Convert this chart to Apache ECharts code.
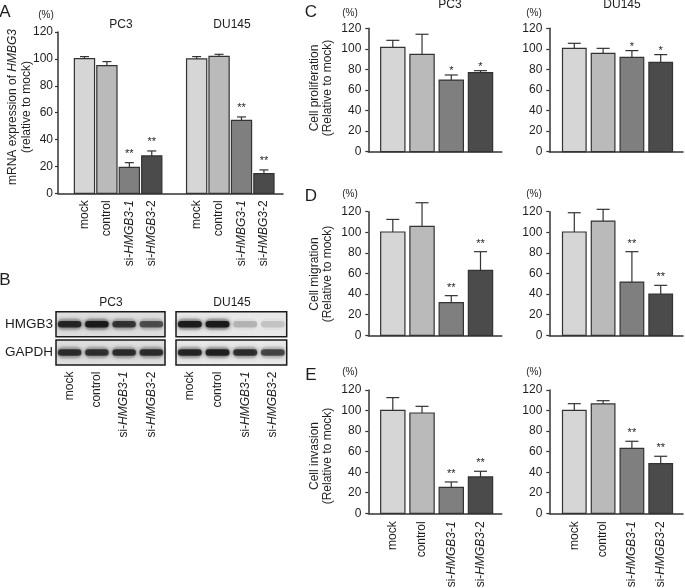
<!DOCTYPE html>
<html>
<head>
<meta charset="utf-8">
<script src="https://cdn.jsdelivr.net/npm/echarts@6/dist/echarts.min.js"></script>
<style>
  html, body { margin: 0; padding: 0; background: #fff; }
  #chart { width: 685px; height: 588px; }
</style>
</head>
<body>
<div id="chart"></div>
<script>
// values, % relative to mock (mean and upper error)
const groups = ['mock', 'control', 'si-HMGB3-1', 'si-HMGB3-2'];
const groupsA_DU145 = ['mock', 'control', 'si-HMBG3-1', 'si-HMBG3-2']; // spelled like this in the figure
const yTicks = [0, 20, 40, 60, 80, 100, 120];

// A: mRNA expression of HMGB3
const mrnaPC3 = [100.2, 95.0, 19.3, 27.8];
const mrnaPC3Err = [1.5, 3.0, 3.5, 3.7];
const mrnaDU145 = [100.0, 101.9, 54.3, 14.6];
const mrnaDU145Err = [1.7, 1.5, 2.5, 2.8];
const mrnaSig = ['', '', '**', '**'];

// B: western blot band strength (0..1)
const blotRows = ['GAPDH', 'HMGB3'];
const hmgb3PC3 = [0.85, 0.95, 0.75, 0.62];
const hmgb3DU145 = [0.92, 0.95, 0.2, 0.14];
const gapdhPC3 = [0.8, 0.78, 0.8, 0.8];
const gapdhDU145 = [0.85, 0.9, 0.8, 0.66];

// C: proliferation
const prolPC3 = [101.5, 94.7, 69.7, 76.9];
const prolPC3Err = [6.8, 19.5, 4.9, 1.9];
const prolDU145 = [100.5, 95.7, 91.8, 86.9];
const prolDU145Err = [4.9, 4.8, 6.5, 7.5];
const prolSig = ['', '', '*', '*'];

// D: migration
const migPC3 = [100.3, 105.8, 31.7, 63.1];
const migPC3Err = [12.2, 22.9, 6.8, 18.1];
const migDU145 = [100.3, 110.9, 51.7, 40.1];
const migDU145Err = [18.7, 11.4, 29.5, 8.4];
const migSig = ['', '', '**', '**'];

// E: invasion
const invPC3 = [100.2, 97.6, 25.3, 35.4];
const invPC3Err = [12.4, 6.5, 5.2, 5.5];
const invDU145 = [100.2, 106.4, 63.2, 48.3];
const invDU145Err = [6.5, 3.2, 6.9, 7.2];
const invSig = ['', '', '**', '**'];

const barColors = ['#d6d6d6', '#bababa', '#7f7f7f', '#4b4b4b'];
const edge = '#333';
const FONT = '"Liberation Sans", Arial, Helvetica, sans-serif';
const INK = '#1e1e1e';

// italic gene name
function richName(s) {
  return s.replace(/HM[A-Z]{2}3/, m => '{i|' + m + '}').replace(/-1$/, '-{i|1}');
}
const richStyle = { i: { fontStyle: 'italic', fontSize: 12, fontFamily: FONT, fill: INK } };

function makeBars(axis, values, errors, stars, opt) {
  const offset = opt.offset || 0;
  return {
    type: 'custom',
    xAxisIndex: axis,
    yAxisIndex: axis,
    clip: false,
    data: values.map((v, i) => [i + offset, v, errors[i]]),
    renderItem: function (params, api) {
      const i = params.dataIndex;
      const x = api.value(0), v = api.value(1), e = api.value(2);
      const p0 = api.coord([x, 0]);
      const p1 = api.coord([x, v]);
      const p2 = api.coord([x, v + e]);
      const w = api.size([opt.barWidth, 0])[0];
      const kids = [
        { type: 'line', shape: { x1: p1[0], y1: p1[1], x2: p2[0], y2: p2[1] }, style: { stroke: edge, lineWidth: 1.2 } },
        { type: 'line', shape: { x1: p2[0] - opt.cap, y1: p2[1], x2: p2[0] + opt.cap, y2: p2[1] }, style: { stroke: edge, lineWidth: 1.2 } },
        { type: 'rect', shape: { x: p0[0] - w / 2, y: p1[1], width: w, height: p0[1] - p1[1] },
          style: { fill: barColors[i], stroke: edge, lineWidth: 1.2 } }
      ];
      if (stars[i]) {
        kids.push({ type: 'text', x: p2[0], y: p2[1] - opt.starGap,
          style: { text: stars[i], fontSize: 11, fontFamily: FONT, fill: INK, align: 'center', verticalAlign: 'middle' } });
      }
      if (opt.labels) {
        kids.push({ type: 'text', x: p0[0], y: p0[1] + opt.labelGap, rotation: Math.PI / 2,
          style: { text: richName(opt.labels[i]), fontSize: 12, fontFamily: FONT, fill: INK,
            align: 'right', verticalAlign: 'middle', rich: richStyle } });
      }
      return { type: 'group', children: kids };
    }
  };
}

function valueX(gridIndex, min, max) {
  return {
    type: 'value', gridIndex, min, max,
    axisLine: { show: true, onZero: false, lineStyle: { color: edge, width: 1.5 } },
    axisTick: { show: false }, axisLabel: { show: false }, splitLine: { show: false }
  };
}
function percentY(gridIndex, margin) {
  return {
    type: 'value', gridIndex,
    min: yTicks[0], max: yTicks[yTicks.length - 1], interval: yTicks[1] - yTicks[0],
    axisLine: { show: true, onZero: false, lineStyle: { color: edge, width: 1.5 } },
    axisTick: { show: true, length: 3, lineStyle: { color: edge, width: 1.2 } },
    axisLabel: { fontSize: 12, color: INK, margin, fontFamily: FONT },
    splitLine: { show: false }
  };
}
function laneX(gridIndex, names) {
  return {
    type: 'category', gridIndex, data: names,
    axisLine: { show: false }, axisTick: { show: false }, splitLine: { show: false },
    axisLabel: { rotate: 90, margin: 5, fontSize: 12, fontFamily: FONT, color: INK,
      formatter: richName, rich: richStyle }
  };
}
function rowY(gridIndex, showLabels) {
  return {
    type: 'category', gridIndex, data: blotRows,
    axisLine: { show: false }, axisTick: { show: false }, splitLine: { show: false },
    axisLabel: { show: showLabels, margin: 3, fontSize: 13.5, fontFamily: FONT, color: INK }
  };
}

function blotBoxes(axis, bg) {
  return {
    type: 'custom', xAxisIndex: axis, yAxisIndex: axis, clip: false, z: 1,
    data: blotRows.map((r, k) => [0, k]),
    renderItem: function (params, api) {
      const cs = params.coordSys;
      const c = api.coord([0, api.value(1)]);
      const h = api.size([0, 1])[1];
      return { type: 'rect', shape: { x: cs.x, y: c[1] - h / 2 + 1.65, width: cs.width, height: h - 3.3 },
        style: { fill: bg, stroke: '#1a1a1a', lineWidth: 1.5 } };
    }
  };
}
function blotBands(axis, top, bottom) {
  const data = top.map((a, i) => [i, 1, a]).concat(bottom.map((a, i) => [i, 0, a]));
  return {
    type: 'custom', xAxisIndex: axis, yAxisIndex: axis, clip: false, z: 2,
    data,
    renderItem: function (params, api) {
      const c = api.coord([api.value(0), api.value(1)]);
      const a = api.value(2);
      const w = api.size([1, 0])[0] * 0.86;
      const h = 6.5;
      return {
        type: 'group',
        children: [
          { type: 'rect', shape: { x: c[0] - w / 2 - 1, y: c[1] - 6, width: w + 2, height: 12, r: 6 },
            style: { fill: 'rgba(60,60,60,' + (a * 0.18) + ')', shadowBlur: 6, shadowColor: 'rgba(60,60,60,' + (a * 0.3) + ')' } },
          { type: 'rect', shape: { x: c[0] - w / 2, y: c[1] - h / 2, width: w, height: h, r: 3.2 },
            style: { fill: 'rgba(22,22,22,' + a + ')', shadowBlur: 5, shadowColor: 'rgba(22,22,22,' + (a * 0.9) + ')' } }
        ]
      };
    }
  };
}

function txt(text, x, y, size, extra) {
  return Object.assign({
    type: 'text', x, y,
    style: { text, fontSize: size, fontFamily: FONT, fill: INK,
      align: 'center', verticalAlign: 'middle', textAlign: 'center', textVerticalAlign: 'middle' }
  }, extra || {});
}
function yTitle(text, x, y, lh) {
  const t = txt(text, x, y, 12, { rotation: Math.PI / 2 });
  t.style.lineHeight = lh;
  t.style.rich = { i: { fontStyle: 'italic', fontSize: 12, fontFamily: FONT, fill: INK, lineHeight: lh } };
  return t;
}

const chart = echarts.init(document.getElementById('chart'), null, { renderer: 'canvas' });
chart.setOption({
  animation: false,
  backgroundColor: '#fff',
  grid: [
    { left: 58, top: 32, width: 225, height: 161.3 },          // A
    { left: 56, top: 310, width: 109, height: 56.6 },          // B PC3
    { left: 176, top: 310, width: 110.7, height: 56.6 },       // B DU145
    { left: 368.3, top: 28.3, width: 133.4, height: 123.4 },   // C PC3
    { left: 549.3, top: 28.3, width: 133.7, height: 123.4 },   // C DU145
    { left: 368.3, top: 211.7, width: 133.4, height: 123.6 },  // D PC3
    { left: 549.3, top: 211.7, width: 133.7, height: 123.6 },  // D DU145
    { left: 368.3, top: 390, width: 133.4, height: 123.3 },    // E PC3
    { left: 549.3, top: 390, width: 133.7, height: 123.3 }     // E DU145
  ],
  xAxis: [
    valueX(0, -1.18, 8.85),
    laneX(1, groups),
    laneX(2, groups),
    valueX(3, -0.838, 3.725),
    valueX(4, -0.868, 3.774),
    valueX(5, -0.838, 3.725),
    valueX(6, -0.868, 3.774),
    valueX(7, -0.838, 3.725),
    valueX(8, -0.868, 3.774)
  ],
  yAxis: [
    percentY(0, 5),
    rowY(1, true),
    rowY(2, false),
    percentY(3, 7), percentY(4, 7),
    percentY(5, 7), percentY(6, 7),
    percentY(7, 7), percentY(8, 7)
  ],
  series: [
    makeBars(0, mrnaPC3, mrnaPC3Err, mrnaSig, { barWidth: 0.9, cap: 4.5, starGap: 9, labels: groups, labelGap: 7 }),
    makeBars(0, mrnaDU145, mrnaDU145Err, mrnaSig, { offset: 5, barWidth: 0.9, cap: 4.5, starGap: 9, labels: groupsA_DU145, labelGap: 7 }),
    blotBoxes(1, '#dedede'), blotBands(1, hmgb3PC3, gapdhPC3),
    blotBoxes(2, '#e8e8e8'), blotBands(2, hmgb3DU145, gapdhDU145),
    makeBars(3, prolPC3, prolPC3Err, prolSig, { barWidth: 0.83, cap: 6.5, starGap: 4 }),
    makeBars(4, prolDU145, prolDU145Err, prolSig, { barWidth: 0.82, cap: 6.5, starGap: 4 }),
    makeBars(5, migPC3, migPC3Err, migSig, { barWidth: 0.83, cap: 6.5, starGap: 8 }),
    makeBars(6, migDU145, migDU145Err, migSig, { barWidth: 0.82, cap: 6.5, starGap: 8 }),
    makeBars(7, invPC3, invPC3Err, invSig, { barWidth: 0.83, cap: 6.5, starGap: 8, labels: groups, labelGap: 8 }),
    makeBars(8, invDU145, invDU145Err, invSig, { barWidth: 0.82, cap: 6.5, starGap: 8, labels: groups, labelGap: 8 })
  ],
  graphic: [
    txt('A', 5, 12, 17), txt('B', 5, 280, 17),
    txt('C', 311, 12, 17), txt('D', 311, 196, 17), txt('E', 311, 375, 17),
    txt('(%)', 46, 15.5, 10), txt('PC3', 121, 25, 12), txt('DU145', 232, 25, 12),
    txt('PC3', 111, 303, 12), txt('DU145', 232, 303, 12),
    txt('(%)', 350, 13, 10), txt('PC3', 450, 5, 12),
    txt('(%)', 534, 13, 10), txt('DU145', 622, 5, 12),
    txt('(%)', 350, 194, 10), txt('(%)', 534, 194, 10),
    txt('(%)', 350, 372.5, 10), txt('(%)', 534, 372.5, 10),
    yTitle('mRNA expression of {i|HMBG3}\n(relative to mock)', 19.6, 107, 14),
    yTitle('Cell proliferation\n(Relative to mock)', 321, 88, 12.5),
    yTitle('Cell migration\n(Relative to mock)', 321, 274, 12.5),
    yTitle('Cell invasion\n(Relative to mock)', 321, 456, 12.5)
  ]
});
</script>
</body>
</html>
